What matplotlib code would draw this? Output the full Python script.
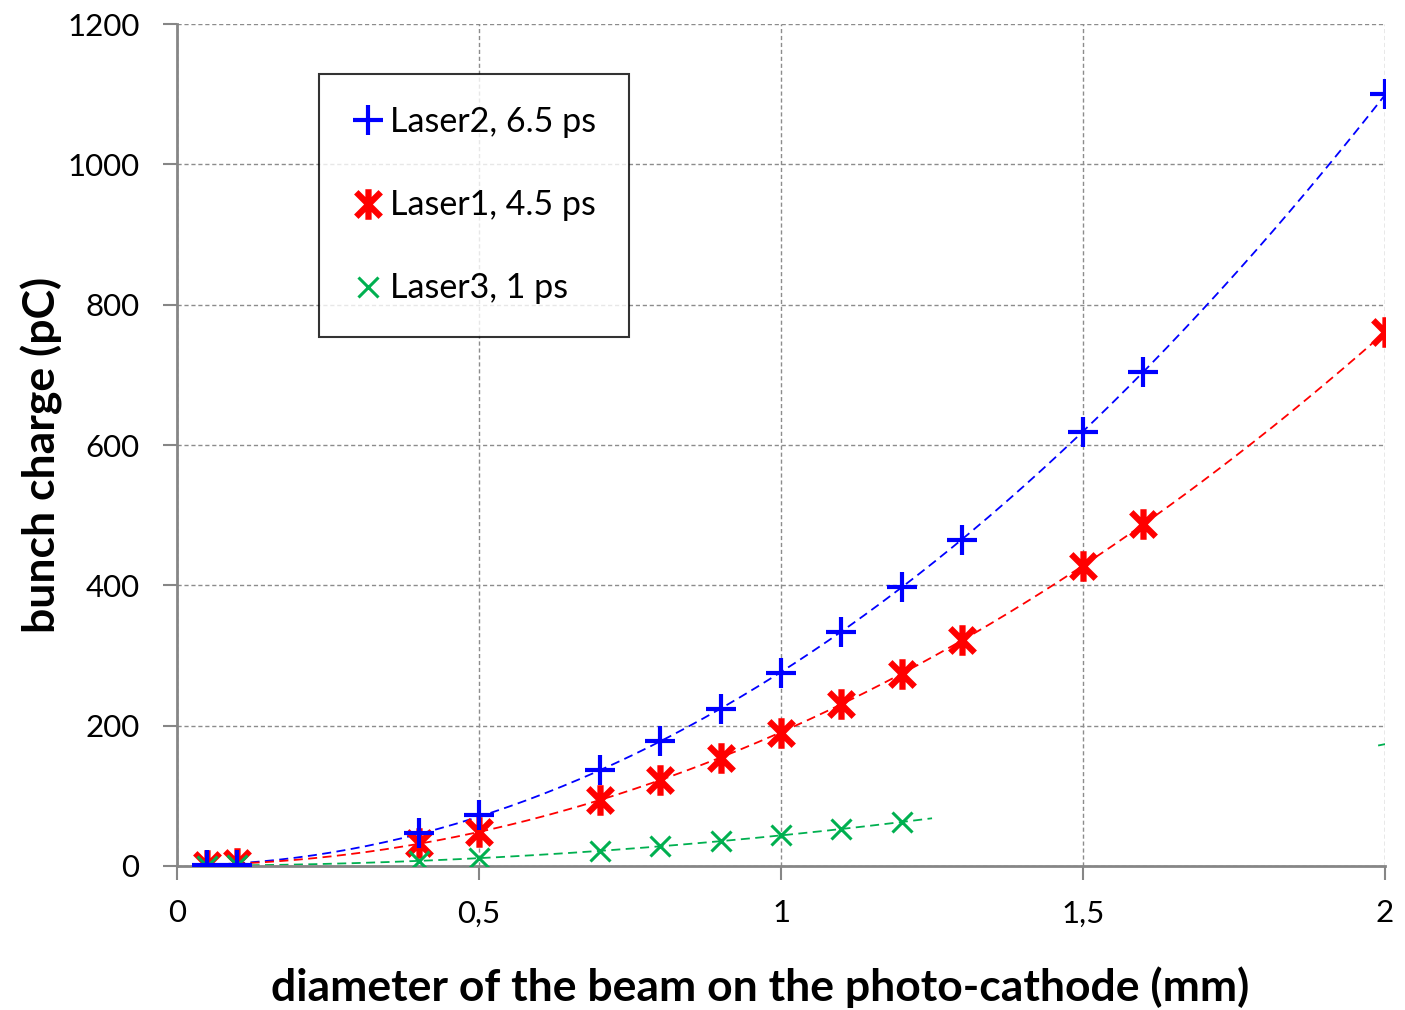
import numpy as np
import matplotlib
matplotlib.use('Agg')
import matplotlib.pyplot as plt
from matplotlib.path import Path

plt.rcParams['font.family'] = ['Lato', 'DejaVu Sans']

# data
diam = [0.05, 0.1, 0.4, 0.5, 0.7, 0.8, 0.9, 1.0, 1.1, 1.2, 1.3, 1.5, 1.6, 2.0]
laser2 = [1, 2, 47, 73, 137, 178, 224, 275, 333, 398, 465, 619, 704, 1100]
laser1 = [1, 4, 33, 48, 94, 123, 154, 190, 231, 274, 322, 428, 487, 761]
diam3 = [0.05, 0.1, 0.4, 0.5, 0.7, 0.8, 0.9, 1.0, 1.1, 1.2]
laser3 = [0.5, 1, 7, 11, 21, 28, 36, 44, 53, 62]

xticks = [0, 0.5, 1, 1.5, 2]
xlabels = ['0', '0,5', '1', '1,5', '2']
yticks = [0, 200, 400, 600, 800, 1000, 1200]

# excel-like asterisk marker: X plus vertical bar
star = Path([(-1, -1), (1, 1), (-1, 1), (1, -1), (0, -1.25), (0, 1.25)],
            [Path.MOVETO, Path.LINETO, Path.MOVETO, Path.LINETO, Path.MOVETO, Path.LINETO])

blue = '#0000ff'
red = '#ff0000'
green = '#00b050'

def trend(x, y, x0, x1):
    c = np.polyfit(x, y, 2)
    xs = np.linspace(x0, x1, 200)
    return xs, np.polyval(c, xs)

fig = plt.figure(figsize=(14.05, 10.1), dpi=100)
ax = fig.add_axes([0.126, 0.1426, 0.8598, 0.8336])

xs, ys = trend(diam, laser2, 0.05, 2.0)
ax.plot(xs, ys, color=blue, lw=1.3, ls=(0, (5, 3)))
xs, ys = trend(diam, laser1, 0.05, 2.0)
ax.plot(xs, ys, color=red, lw=1.3, ls=(0, (5, 3)))
xs, ys = trend(diam3, laser3, 0.05, 1.25)
ax.plot(xs, ys, color=green, lw=1.3, ls=(0, (5, 3)))
xs, ys = trend(diam3, laser3, 1.99, 2.0)
ax.plot(xs, ys, color=green, lw=1.3)

ax.plot(diam3, laser3, ls='none', marker='x', ms=15, mew=2.2, color=green, label='Laser3, 1 ps', zorder=5)
ax.plot(diam, laser1, ls='none', marker=star, ms=22, mew=4.5, color=red, label='Laser1, 4.5 ps', zorder=4)
ax.plot(diam, laser2, ls='none', marker='+', ms=22, mew=3, color=blue, label='Laser2, 6.5 ps', zorder=6)

ax.set_xlim(0, 2)
ax.set_ylim(0, 1200)
ax.set_xticks(xticks)
ax.set_xticklabels(xlabels)
ax.set_yticks(yticks)
ax.tick_params(axis='both', labelsize=22.5, length=10, width=1.5, color='#868686')
ax.tick_params(axis='y', pad=17)
ax.tick_params(axis='x', pad=14)
ax.grid(True, color='#8c8c8c', ls=(0, (3, 2)), lw=1)
for s in ['top', 'right']:
    ax.spines[s].set_visible(False)
for s in ['left', 'bottom']:
    ax.spines[s].set_color('#868686')
    ax.spines[s].set_linewidth(2)

ax.set_xlabel('diameter of the beam on the photo-cathode (mm)', fontsize=32, fontweight='bold',
              va='center', ha='center')
ax.xaxis.set_label_coords(0.483, -0.1437)
ax.set_ylabel('bunch charge (pC)', fontsize=32, fontweight='bold', va='center', ha='center')
ax.yaxis.set_label_coords(-0.1118, 0.488)

h, l = ax.get_legend_handles_labels()
leg = ax.legend(h[::-1], l[::-1], loc='upper left', bbox_to_anchor=(0.1175, 0.9406), fontsize=24.5,
                frameon=True, fancybox=False, edgecolor='black', borderpad=0.95, labelspacing=1.5,
                handlelength=1.0, handletextpad=0.15, borderaxespad=0)
leg.get_frame().set_linewidth(1.5)

fig.savefig('out.png', dpi=100)
